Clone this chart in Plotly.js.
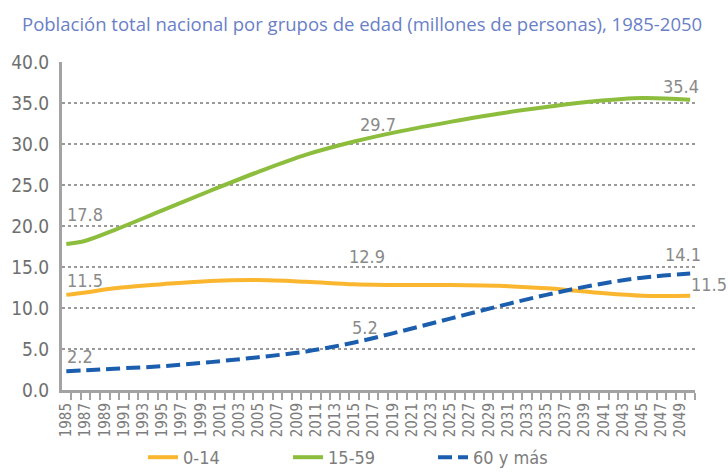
<!DOCTYPE html>
<html>
<head>
<meta charset="utf-8">
<script src="https://cdn.plot.ly/plotly-3.0.1.min.js"></script>
<style>
html,body{margin:0;padding:0;background:#fff;}
#chart{width:728px;height:476px;}
.xtick text, .ytick text, .legendtext, .annotation-text { font-stretch: condensed !important; }
</style>
</head>
<body>
<div id="chart"></div>
<script>
const years = [1985, 1987, 1990, 1995, 2000, 2005, 2010, 2015, 2020, 2025, 2030, 2035, 2040, 2045, 2050];
const age0_14  = [11.6, 11.9, 12.4, 12.9, 13.3, 13.4, 13.2, 12.9, 12.8, 12.8, 12.7, 12.4, 11.9, 11.5, 11.5];
const age15_59 = [17.8, 18.2, 19.5, 21.9, 24.3, 26.6, 28.7, 30.3, 31.6, 32.7, 33.7, 34.5, 35.2, 35.6, 35.4];
const age60p   = [2.3, 2.4, 2.6, 2.9, 3.4, 4.0, 4.7, 5.8, 7.2, 8.7, 10.2, 11.6, 12.8, 13.7, 14.2];
const seriesNames = ["0-14", "15-59", "60 y más"];
const tickYears = [];
for (let y = 1985; y <= 2049; y += 2) tickYears.push(y);
const tickLabels = tickYears.map(String);
// value labels: [text, year, value]
const labelText  = ["17.8", "11.5", "2.2", "29.7", "12.9", "5.2", "35.4", "14.1", "11.5"];
const labelYear  = [1985, 1985, 1985, 2017.5, 2016.3, 2016.1, 2049, 2049.3, 2050.0];
const labelValue = [17.8, 11.5, 2.2, 29.7, 12.9, 5.2, 35.4, 14.1, 11.5];
const labelShift = [18, 4, 4, 10, 16, 8, 2, 8, 0];
const labelAnchor = ["left", "left", "left", "center", "center", "center", "center", "center", "left"];

const narrow = "'DejaVu Sans', sans-serif";
const gray = "#7d7d7d";

const traces = [
  {x: years, y: age0_14, name: seriesNames[0], mode: "lines", line: {color: "#fbb62f", width: 4, shape: "spline", smoothing: 1}},
  {x: years, y: age15_59, name: seriesNames[1], mode: "lines", line: {color: "#8cbd3d", width: 4, shape: "spline", smoothing: 1}},
  {x: years, y: age60p, name: seriesNames[2], mode: "lines", line: {color: "#1b5eae", width: 4, dash: "14px,6px", shape: "spline", smoothing: 1}}
];

const annotations = labelText.map((t, i) => ({
  x: labelYear[i], y: labelValue[i], xref: "x", yref: "y", text: t, showarrow: false,
  xanchor: labelAnchor[i], yanchor: "bottom", yshift: labelShift[i], borderpad: 0,
  font: {family: narrow, size: 18, color: "#8a8a8a"}
}));

const layout = {
  width: 728, height: 476,
  margin: {l: 62, r: 33, t: 62, b: 86},
  paper_bgcolor: "#fff", plot_bgcolor: "#fff",
  title: {text: "Población total nacional por grupos de edad (millones de personas), 1985-2050",
          x: 22/728, xanchor: "left", y: 1 - 25/476, yanchor: "middle",
          font: {family: "'Open Sans', 'Noto Sans', sans-serif", size: 18.5, color: "#6a7fc7"}},
  xaxis: {
    range: [1984.55, 2050.5], tickmode: "array", tickvals: tickYears, ticktext: tickLabels,
    tickangle: -90, ticks: "", showgrid: false, zeroline: false,
    showline: true, linecolor: "#a3a3a3", linewidth: 3, ticklabelstandoff: 4,
    tickfont: {family: narrow, size: 15, color: gray},
    minor: {tickmode: "linear", tick0: 1984.5, dtick: 1, ticks: "outside", ticklen: 7, tickwidth: 2, tickcolor: "#a3a3a3", showgrid: false}
  },
  yaxis: {
    range: [0, 40], tickmode: "linear", tick0: 0, dtick: 5, tickformat: ".1f",
    showgrid: true, gridcolor: "#9a9a9a", gridwidth: 1.5, griddash: "dot",
    zeroline: false, showline: true, linecolor: "#a3a3a3", linewidth: 3,
    ticks: "", ticklabelstandoff: 6,
    tickfont: {family: narrow, size: 19, color: "#6f6f6f"}
  },
  showlegend: true,
  legend: {orientation: "h", x: 0.128, xanchor: "left", yref: "container", y: 0, yanchor: "bottom",
           entrywidth: 100, entrywidthmode: "pixels", bgcolor: "rgba(0,0,0,0)",
           font: {family: narrow, size: 18, color: gray}},
  annotations: annotations
};

Plotly.newPlot("chart", traces, layout, {staticPlot: true, displayModeBar: false});
</script>
</body>
</html>
